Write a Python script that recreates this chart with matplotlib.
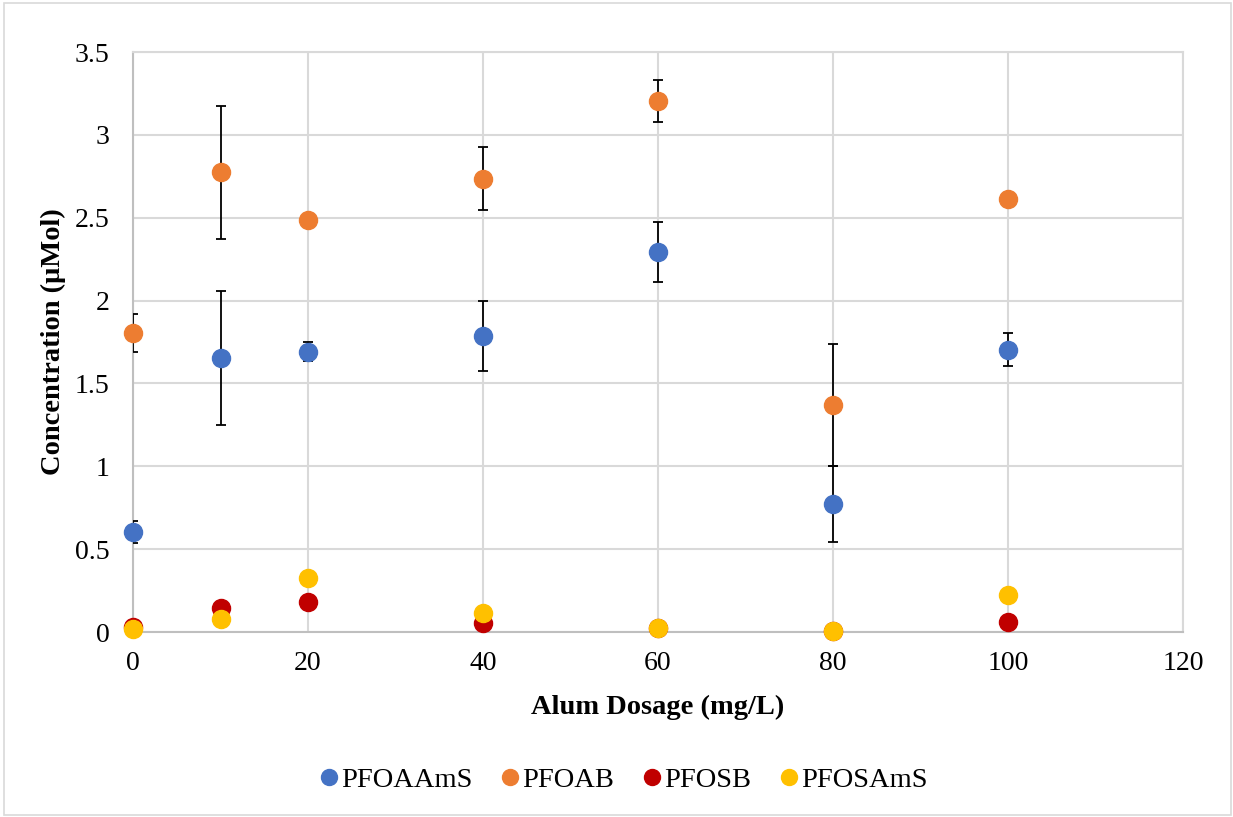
import matplotlib
matplotlib.use("Agg")
import matplotlib.pyplot as plt
from matplotlib.lines import Line2D
from matplotlib.patches import Rectangle

plt.rcParams['font.family'] = ['Liberation Serif', 'DejaVu Serif']

# Alum dosage (mg/L)
dosage = [0, 10, 20, 40, 60, 80, 100]

# Concentrations (µMol) and standard deviations
pfoaams = [0.605, 1.655, 1.690, 1.786, 2.292, 0.772, 1.704]
pfoaams_err = [0.066, 0.405, 0.057, 0.210, 0.180, 0.230, 0.098]

pfoab = [1.802, 2.774, 2.486, 2.736, 3.202, 1.370, 2.613]
pfoab_err = [0.115, 0.400, 0.0, 0.190, 0.127, 0.370, 0.0]

pfosb = [0.030, 0.143, 0.183, 0.056, 0.022, 0.004, 0.058]
pfosams = [0.018, 0.078, 0.328, 0.113, 0.025, 0.004, 0.221]

series_names = ['PFOAAmS', 'PFOAB', 'PFOSB', 'PFOSAmS']
colors = ['#4472C4', '#ED7D31', '#C00000', '#FFC000']

x_ticks = [0, 20, 40, 60, 80, 100, 120]
y_ticks = [0, 0.5, 1, 1.5, 2, 2.5, 3, 3.5]
y_tick_labels = ['0', '0.5', '1', '1.5', '2', '2.5', '3', '3.5']

W, H = 1233, 817
fig = plt.figure(figsize=(W / 100, H / 100), dpi=100)
ax = fig.add_axes([133 / W, 1 - 632 / H, 1050 / W, 580 / H])

# thin border around the whole chart
fig.patches.append(Rectangle((4 / W, 2 / H), 1227 / W, 812 / H,
                             transform=fig.transFigure, fill=False,
                             edgecolor='#d9d9d9', linewidth=1.2))

ax.set_xlim(0, 120)
ax.set_ylim(0, 3.5)
ax.set_xticks(x_ticks)
ax.set_yticks(y_ticks)
ax.set_xticklabels([str(v) for v in x_ticks])
ax.set_yticklabels(y_tick_labels)
ax.tick_params(length=0, labelsize=20, colors='black')
ax.tick_params(axis='y', pad=17)
ax.tick_params(axis='x', pad=14)

ax.grid(True, color='#d9d9d9', linewidth=1.5, zorder=0)
ax.set_axisbelow(True)
for side in ['top', 'right']:
    ax.spines[side].set_color('#d9d9d9')
    ax.spines[side].set_linewidth(1.5)
for side in ['left', 'bottom']:
    ax.spines[side].set_color('#bfbfbf')
    ax.spines[side].set_linewidth(1.5)

all_vals = [pfoaams, pfoab, pfosb, pfosams]
all_errs = [pfoaams_err, pfoab_err, None, None]

for vals, errs, c in zip(all_vals, all_errs, colors):
    if errs is not None:
        xs = [d for d, e in zip(dosage, errs) if e > 0]
        ys = [v for v, e in zip(vals, errs) if e > 0]
        es = [e for e in errs if e > 0]
        ax.errorbar(xs, ys, yerr=es, fmt='none', ecolor='black',
                    elinewidth=1.3, capsize=3.8, capthick=1.3, zorder=3)
    ax.plot(dosage, vals, linestyle='none', marker='o', markersize=13,
            markerfacecolor=c, markeredgecolor=c, clip_on=False, zorder=4)

fig.text(658 / W, 1 - 707 / H, 'Alum Dosage (mg/L)', fontsize=20.5,
         fontweight='bold', ha='center', va='center')
fig.text(53 / W, 1 - 342 / H, 'Concentration (μMol)', fontsize=20.5,
         fontweight='bold', ha='center', va='center', rotation=90)

handles = [Line2D([], [], linestyle='none', marker='o', markersize=11.5,
                  markerfacecolor=c, markeredgecolor=c) for c in colors]
fig.legend(handles, series_names, loc='center', bbox_to_anchor=(0.505, 1 - 780 / H),
           ncol=4, frameon=False, fontsize=20.5, handletextpad=0.02,
           columnspacing=0.93, handlelength=0.8, borderpad=0.2)

fig.savefig('out.png', dpi=100, facecolor='white')
